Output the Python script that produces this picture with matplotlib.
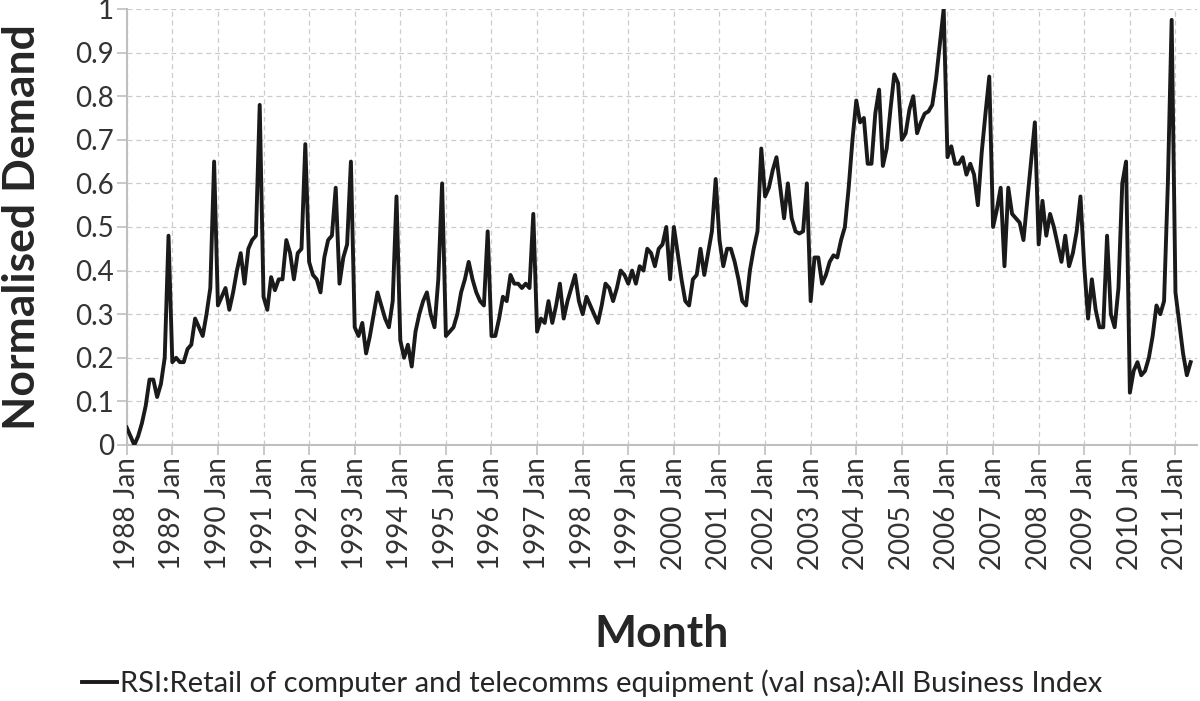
import numpy as np
import matplotlib
matplotlib.use('Agg')
import matplotlib.pyplot as plt

plt.rcParams['font.family'] = ['Lato', 'DejaVu Sans']

# Monthly normalised demand (Jan 1988 .. May 2011)
demand_1988_1993 = [
    0.04, 0.02, 0.00, 0.02, 0.05, 0.09, 0.15, 0.15, 0.11, 0.14, 0.20, 0.48,
    0.19, 0.20, 0.19, 0.19, 0.22, 0.23, 0.29, 0.27, 0.25, 0.30, 0.36, 0.65,
    0.32, 0.34, 0.36, 0.31, 0.35, 0.40, 0.44, 0.37, 0.45, 0.47, 0.48, 0.78,
    0.34, 0.31, 0.385, 0.355, 0.38, 0.38, 0.47, 0.44, 0.38, 0.44, 0.45, 0.69,
    0.42, 0.39, 0.38, 0.35, 0.43, 0.47, 0.48, 0.59, 0.37, 0.43, 0.46, 0.65,
    0.27, 0.25, 0.28, 0.21, 0.25, 0.30, 0.35, 0.32, 0.29, 0.27, 0.33, 0.57,
]
demand_1994_1999 = [
    0.24, 0.20, 0.23, 0.18, 0.26, 0.30, 0.33, 0.35, 0.30, 0.27, 0.38, 0.60,
    0.25, 0.26, 0.27, 0.30, 0.35, 0.38, 0.42, 0.38, 0.35, 0.33, 0.32, 0.49,
    0.25, 0.25, 0.29, 0.34, 0.33, 0.39, 0.37, 0.37, 0.36, 0.37, 0.36, 0.53,
    0.26, 0.29, 0.28, 0.33, 0.28, 0.32, 0.37, 0.29, 0.33, 0.36, 0.39, 0.33,
    0.30, 0.34, 0.32, 0.30, 0.28, 0.32, 0.37, 0.36, 0.33, 0.36, 0.40, 0.39,
    0.37, 0.40, 0.37, 0.41, 0.40, 0.45, 0.44, 0.41, 0.45, 0.46, 0.50, 0.38,
]
demand_2000_2005 = [
    0.50, 0.44, 0.38, 0.33, 0.32, 0.38, 0.39, 0.45, 0.39, 0.44, 0.49, 0.61,
    0.47, 0.41, 0.45, 0.45, 0.42, 0.38, 0.33, 0.32, 0.40, 0.45, 0.49, 0.68,
    0.57, 0.59, 0.63, 0.66, 0.59, 0.52, 0.60, 0.52, 0.49, 0.485, 0.49, 0.60,
    0.33, 0.43, 0.43, 0.37, 0.39, 0.42, 0.435, 0.43, 0.47, 0.50, 0.59, 0.70,
    0.79, 0.74, 0.75, 0.645, 0.645, 0.76, 0.815, 0.64, 0.68, 0.77, 0.85, 0.83,
    0.70, 0.715, 0.77, 0.80, 0.715, 0.74, 0.76, 0.765, 0.78, 0.84, 0.92, 1.00,
]
demand_2006_2011 = [
    0.66, 0.685, 0.645, 0.645, 0.66, 0.62, 0.645, 0.62, 0.55, 0.67, 0.76, 0.845,
    0.50, 0.54, 0.59, 0.41, 0.59, 0.53, 0.52, 0.51, 0.47, 0.56, 0.65, 0.74,
    0.46, 0.56, 0.48, 0.53, 0.50, 0.46, 0.42, 0.48, 0.41, 0.44, 0.49, 0.57,
    0.41, 0.29, 0.38, 0.31, 0.27, 0.27, 0.48, 0.30, 0.27, 0.36, 0.60, 0.65,
    0.12, 0.17, 0.19, 0.16, 0.17, 0.20, 0.25, 0.32, 0.30, 0.33, 0.60, 0.975,
    0.35, 0.28, 0.21, 0.16, 0.19,
]

years = list(range(1988, 2012))
year_labels = [f'{y} Jan' for y in years]
y_ticks = [0, 0.1, 0.2, 0.3, 0.4, 0.5, 0.6, 0.7, 0.8, 0.9, 1]
series_name = 'RSI:Retail of computer and telecomms equipment (val nsa):All Business Index'

demand = np.array(demand_1988_1993 + demand_1994_1999 + demand_2000_2005 + demand_2006_2011)
months = np.arange(len(demand))

fig = plt.figure(figsize=(12, 7.01), dpi=100)
ax = fig.add_axes([0.1056, 0.3652, 0.892, 0.622])

ax.plot(months, demand, color='#1a1a1a', linewidth=2.8, label=series_name, zorder=3)

ax.set_xlim(0, 281.7)
ax.set_ylim(0, 1)

ax.set_xticks([12 * i for i in range(len(years))])
ax.set_xticklabels(year_labels, rotation=90, fontsize=20, color='#333333')
ax.set_yticks(y_ticks)
ax.set_yticklabels([f'{v:g}' for v in y_ticks], fontsize=20, color='#333333')

ax.tick_params(axis='y', length=7, width=1.2, color='#bfbfbf', pad=2)
ax.tick_params(axis='x', length=7, width=1.2, color='#bfbfbf', pad=2)

ax.grid(True, linestyle=(0, (4, 3)), color='#cccccc', linewidth=0.9)
ax.set_axisbelow(True)

for side in ['top', 'right']:
    ax.spines[side].set_visible(False)
for side in ['left', 'bottom']:
    ax.spines[side].set_color('#bfbfbf')
    ax.spines[side].set_linewidth(1.5)

ax.set_ylabel('Normalised Demand', fontsize=32, fontweight='bold', color='#262626')
ax.yaxis.set_label_coords(-0.079, 0.5)
ax.set_xlabel('Month', fontsize=32, fontweight='bold', color='#262626')
ax.xaxis.set_label_coords(0.5, -0.388)

fig.legend(loc='center', bbox_to_anchor=(592 / 1200, 1 - 683 / 701), frameon=False,
           fontsize=21, handlelength=1.2, handletextpad=0.1, labelcolor='#262626')

plt.savefig('out.png', dpi=100)
